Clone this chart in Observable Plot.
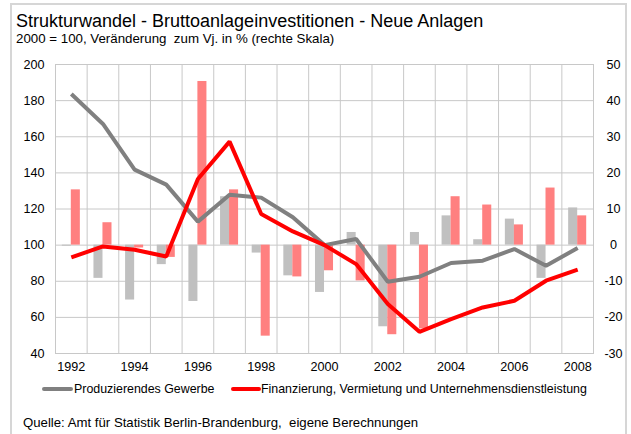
<!DOCTYPE html>
<html>
<head>
<meta charset="utf-8">
<script src="https://cdn.jsdelivr.net/npm/d3@7"></script>
<script src="https://cdn.jsdelivr.net/npm/@observablehq/plot@0.6"></script>
<style>
  html, body { margin: 0; padding: 0; background: #fff; }
  body { width: 631px; height: 434px; overflow: hidden; font-family: "Liberation Sans", Arial, sans-serif; color: #000; }
  #wrap { position: relative; width: 631px; height: 434px; }
  #frame { position: absolute; left: 10px; top: 3px; width: 617px; height: 440px; border: 2px solid #d6d6d6; box-sizing: border-box; }
  #title { position: absolute; left: 16px; top: 11px; font-size: 18px; line-height: 20px; white-space: pre; }
  #subtitle { position: absolute; left: 16px; top: 32px; font-size: 13.3px; line-height: 14px; white-space: pre; }
  #chart { position: absolute; left: 0; top: 50px; }
  .leg { position: absolute; font-size: 12.4px; line-height: 14px; white-space: pre; }
  .sw { position: absolute; height: 4px; border-radius: 2px; }
  #caption { position: absolute; left: 23px; top: 415px; font-size: 13.2px; line-height: 15px; white-space: pre; }
</style>
</head>
<body>
<div id="wrap">
  <div id="frame"></div>
  <div id="title"></div>
  <div id="subtitle"></div>
  <div id="chart"></div>
  <div id="legend"></div>
  <div id="caption"></div>
</div>
<script>
// ---- data ----
const title = "Strukturwandel - Bruttoanlageinvestitionen - Neue Anlagen";
const subtitle = "2000 = 100, Veränderung  zum Vj. in % (rechte Skala)";
const caption = "Quelle: Amt für Statistik Berlin-Brandenburg,  eigene Berechnungen";
const seriesNames = ["Produzierendes Gewerbe", "Finanzierung, Vermietung und Unternehmensdienstleistung"];

const years = [1992, 1993, 1994, 1995, 1996, 1997, 1998, 1999, 2000, 2001, 2002, 2003, 2004, 2005, 2006, 2007, 2008];
// index 2000 = 100 (left scale)
const produzierend = [183.7, 167.1, 141.8, 133.5, 113.0, 127.9, 126.3, 115.4, 100.0, 103.4, 79.7, 82.5, 90.1, 91.4, 97.8, 88.6, 98.4];
const finanzierung = [93.2, 99.3, 97.4, 93.7, 136.6, 157.3, 117.2, 107.6, 100.0, 89.5, 67.4, 52.0, 59.0, 65.5, 69.2, 80.3, 86.4];
// change on previous year in % (right scale)
const produzierendChange = [-0.3, -9.2, -15.2, -5.4, -15.6, 13.4, -2.2, -8.5, -13.1, 3.5, -22.6, 3.5, 8.1, 1.5, 7.2, -9.2, 10.3];
const finanzierungChange = [15.3, 6.2, -0.8, -3.4, 45.3, 15.3, -25.2, -8.8, -7.1, -9.9, -24.8, -23.2, 13.4, 11.1, 5.6, 15.8, 8.1];

const leftTicks = [40, 60, 80, 100, 120, 140, 160, 180, 200];
const yearTicks = [1992, 1994, 1996, 1998, 2000, 2002, 2004, 2006, 2008];

// ---- build table ----
const rows = years.map((yr, i) => ({
  year: yr,
  prod: produzierend[i],
  fin: finanzierung[i],
  prodChg: produzierendChange[i],
  finChg: finanzierungChange[i]
}));
// right scale r maps onto left scale as 100 + 2r
const toLeft = r => 100 + 2 * r;
const boundaries = years.map(y => y - 0.5).concat([years[years.length - 1] + 0.5]);

const gridColor = "#c8c8c8";
const font = "'Liberation Sans', Arial, sans-serif";

const chart = Plot.plot({
  width: 631,
  height: 330,
  marginLeft: 55,
  marginRight: 38,
  marginTop: 14,
  marginBottom: 27,
  style: { fontFamily: font, fontSize: "12.6px", color: "#000", background: "transparent", overflow: "visible" },
  x: { domain: [years[0] - 0.5, years[years.length - 1] + 0.5] },
  y: { domain: [40, 200] },
  marks: [
    Plot.ruleY(leftTicks, { stroke: gridColor, strokeWidth: 1 }),
    Plot.ruleX(boundaries, { stroke: gridColor, strokeWidth: 1 }),
    Plot.frame({ stroke: gridColor, strokeWidth: 1 }),
    Plot.rectY(rows, { x1: d => d.year - 0.5, x2: d => d.year + 0.5, y1: toLeft(0), y2: d => toLeft(d.prodChg), fill: "#c0c0c0", insetLeft: 6.8, insetRight: 15.8 }),
    Plot.rectY(rows, { x1: d => d.year - 0.5, x2: d => d.year + 0.5, y1: toLeft(0), y2: d => toLeft(d.finChg), fill: "#ff8080", insetLeft: 15.8, insetRight: 6.8 }),
    Plot.line(rows, { x: "year", y: "prod", stroke: "#808080", strokeWidth: 4, strokeLinejoin: "miter", strokeLinecap: "butt" }),
    Plot.line(rows, { x: "year", y: "fin", stroke: "#ff0000", strokeWidth: 4, strokeLinejoin: "miter", strokeLinecap: "butt" }),
    Plot.axisY({ anchor: "left", ticks: leftTicks, tickSize: 0, tickPadding: 11, label: null, tickFormat: d => String(d) }),
    Plot.axisY({ anchor: "right", ticks: leftTicks, tickSize: 0, tickPadding: 20, label: null, textAnchor: "middle", tickFormat: d => String((d - 100) / 2) }),
    Plot.axisX({ anchor: "bottom", ticks: yearTicks, tickSize: 0, tickPadding: 9, label: null, tickFormat: d => String(d) })
  ]
});
document.getElementById("chart").appendChild(chart);

document.getElementById("title").textContent = title;
document.getElementById("subtitle").textContent = subtitle;
document.getElementById("caption").textContent = caption;

const legend = document.getElementById("legend");
const legItems = [
  { name: seriesNames[0], color: "#808080", swLeft: 42, swWidth: 31, textLeft: 74 },
  { name: seriesNames[1], color: "#ff0000", swLeft: 231, swWidth: 30, textLeft: 261 }
];
for (const it of legItems) {
  const sw = document.createElement("div");
  sw.className = "sw";
  sw.style.left = it.swLeft + "px";
  sw.style.top = "387px";
  sw.style.width = it.swWidth + "px";
  sw.style.background = it.color;
  legend.appendChild(sw);
  const t = document.createElement("div");
  t.className = "leg";
  t.style.left = it.textLeft + "px";
  t.style.top = "382px";
  t.textContent = it.name;
  legend.appendChild(t);
}
</script>
</body>
</html>
